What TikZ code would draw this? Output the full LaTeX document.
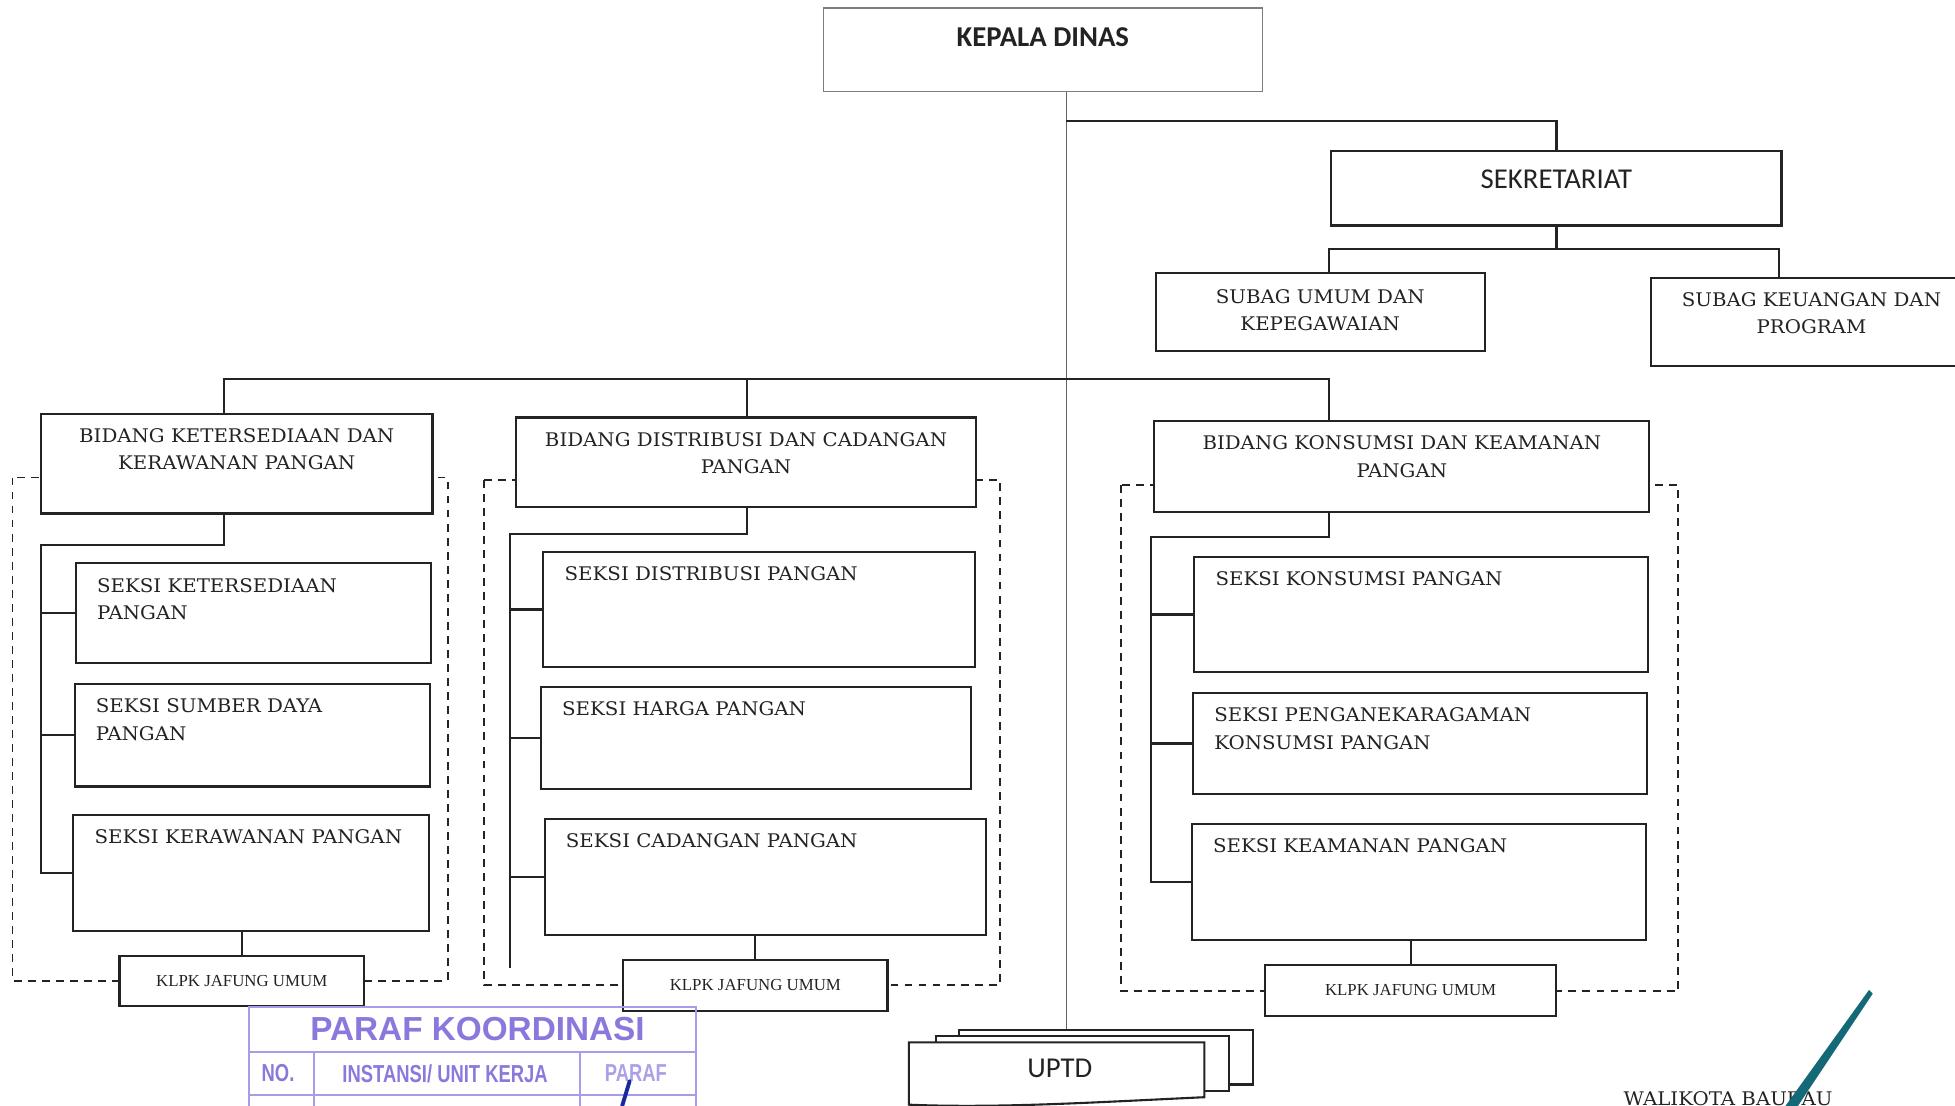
\documentclass[tikz,border=0pt]{standalone}
\usepackage{fontspec}
\usepackage{tikz}
\usetikzlibrary{positioning, calc}
\newfontfamily\boxfont{DejaVu Serif}[FakeStretch=1.055]
\newfontfamily\headfont{Carlito}
\newfontfamily\klpkfont{Liberation Serif}
\newfontfamily\stampfont{Liberation Sans}
\newfontfamily\stampnarrow{Liberation Sans}[FakeStretch=0.75]
\definecolor{myink}{RGB}{35,35,35}
\definecolor{mygrey}{RGB}{125,125,125}
\definecolor{mystamp}{RGB}{140,120,220}
\definecolor{mystampline}{RGB}{170,155,232}
\definecolor{mypen}{RGB}{25,40,160}
\definecolor{myteal}{RGB}{20,105,118}
\tikzset{
  box/.style={rectangle, draw=myink, fill=white, line width=1.2pt,
    inner sep=0pt, anchor=north west},
  boxsize/.style 2 args={minimum width=#1*0.025cm, minimum height=#2*0.025cm},
  headbox/.style={box, draw=mygrey, line width=0.6pt},
  headtxt/.style={inner sep=0pt, color=myink,
    font=\headfont\fontsize{16.4}{19}\selectfont},
  boxtxt/.style={inner sep=0pt, color=myink, align=center,
    font=\boxfont\fontsize{10.7}{15.65}\selectfont},
  seksitxt/.style={boxtxt, align=left},
  klpk/.style={box, text=myink, font=\klpkfont\fontsize{9.6}{11}\selectfont},
  line/.style={line width=1.2pt, color=myink},
  dashline/.style={line width=1.1pt, color=myink, dash pattern=on 4.5pt off 3.5pt},
  spineline/.style={line width=0.6pt, color=mygrey!80!black},
  stampline/.style={line width=1.2pt, color=mystampline},
  stamptxt/.style={inner sep=0pt, color=mystamp,
    font=\stampnarrow\bfseries\fontsize{14}{16}\selectfont}
}

\begin{document}
\begin{tikzpicture}[x=0.025cm, y=-0.025cm, node distance=0.31cm and 0.44cm]
  \useasboundingbox (0,0) rectangle (1568,887);
  \clip (0,0) rectangle (1568,887);

  % Dashed groups behind the bidang boxes
  \draw[dashline] (10,383) rectangle (359,787);
  \draw[dashline] (388,385) rectangle (802,790);
  \draw[dashline] (899,389) rectangle (1346,795);

  % Kepala dinas and sekretariat
  \node[headbox, boxsize={352}{67}] (kadis) at (660,6) {};
  \node[headtxt, font=\headfont\bfseries\fontsize{16.4}{19}\selectfont, below=0.39cm of kadis.north] (kadis-t) {KEPALA DINAS};
  \node[box, boxsize={361}{60}] (sekr) at (1067,120) {};
  \node[headtxt, below=0.39cm of sekr.north] (sekr-t) {SEKRETARIAT};
  \node[box, boxsize={264}{63}] (subu) at (926,218) {};
  \node[boxtxt, below=0.34cm of subu.north] (subu-t) {SUBAG UMUM DAN\\KEPEGAWAIAN};
  \node[box, boxsize={258}{71}] (subk) at (1323,222) {};
  \node[boxtxt, below=of subk.north] (subk-t) {SUBAG KEUANGAN DAN\\PROGRAM};

  % Bidang
  \node[box, boxsize={314}{80}] (bk) at (32,331) {};
  \node[boxtxt, below=of bk.north] (bk-t) {BIDANG KETERSEDIAAN DAN\\KERAWANAN PANGAN};
  \node[box, boxsize={369}{72}] (bd) at (413,334) {};
  \node[boxtxt, below=of bd.north] (bd-t) {BIDANG DISTRIBUSI DAN CADANGAN\\PANGAN};
  \node[box, boxsize={397}{73}] (bkk) at (925,337) {};
  \node[boxtxt, below=of bkk.north] (bkk-t) {BIDANG KONSUMSI DAN KEAMANAN\\PANGAN};

  % Seksi ketersediaan dan kerawanan
  \node[box, boxsize={285}{80}] (k1) at (60,451) {};
  \node[seksitxt, below right=of k1.north west] (k1-t) {SEKSI KETERSEDIAAN\\PANGAN};
  \node[box, boxsize={285}{82}] (k2) at (59,548) {};
  \node[seksitxt, below right=of k2.north west] (k2-t) {SEKSI SUMBER DAYA\\PANGAN};
  \node[box, boxsize={285}{93}] (k3) at (58,653) {};
  \node[seksitxt, below right=of k3.north west] (k3-t) {SEKSI KERAWANAN PANGAN};

  % Seksi distribusi dan cadangan
  \node[box, boxsize={346}{92}] (d1) at (435,442) {};
  \node[seksitxt, below right=of d1.north west] (d1-t) {SEKSI DISTRIBUSI PANGAN};
  \node[box, boxsize={345}{82}] (d2) at (433,550) {};
  \node[seksitxt, below right=of d2.north west] (d2-t) {SEKSI HARGA PANGAN};
  \node[box, boxsize={354}{93}] (d3) at (436,656) {};
  \node[seksitxt, below right=of d3.north west] (d3-t) {SEKSI CADANGAN PANGAN};

  % Seksi konsumsi dan keamanan
  \node[box, boxsize={364}{92}] (c1) at (957,446) {};
  \node[seksitxt, below right=of c1.north west] (c1-t) {SEKSI KONSUMSI PANGAN};
  \node[box, boxsize={364}{81}] (c2) at (956,555) {};
  \node[seksitxt, below right=of c2.north west] (c2-t) {SEKSI PENGANEKARAGAMAN\\KONSUMSI PANGAN};
  \node[box, boxsize={364}{93}] (c3) at (955,660) {};
  \node[seksitxt, below right=of c3.north west] (c3-t) {SEKSI KEAMANAN PANGAN};

  % Kelompok jabatan fungsional
  \node[klpk, boxsize={196}{40}] (klpk1) at (95,766) {KLPK JAFUNG UMUM};
  \node[klpk, boxsize={212}{41}] (klpk2) at (499,769) {KLPK JAFUNG UMUM};
  \node[klpk, boxsize={233}{41}] (klpk3) at (1014,773) {KLPK JAFUNG UMUM};

  % UPTD
  \node[box, boxsize={236}{44}] (uptdc) at (768,825) {};
  \node[box, boxsize={235}{44}] (uptdb) at (750,830) {};
  \draw[line, fill=white] (729,836) -- (966,836) -- (966,880)
    .. controls (880,884) and (800,889) .. (729,886) -- cycle;
  \node[headtxt] (uptd) at (850,857) {UPTD};

  % Connectors
  \coordinate (spine) at (855,0);
  \coordinate (dsubu) at (1066,200);
  \coordinate (dsubk) at (1427,200);
  \coordinate (dbk) at (180,304);
  \coordinate (dbd) at (599,304);
  \coordinate (dbkk) at (1066,304);
  \coordinate (tk) at (33,437);
  \coordinate (td) at (409,428);
  \coordinate (tc) at (923,431);
  \draw[spineline] (kadis.south -| spine) -- (uptdc.north -| spine);
  \draw[line] (spine |- 0,97) -| (sekr.north);
  \draw[line] (sekr.south) -- (sekr.south |- dsubu);
  \draw[line] (subu.north -| dsubu) -- (dsubu) -- (dsubk) -- (subk.north -| dsubk);
  \draw[line] (bk.north -| dbk) -- (dbk) -- (dbkk) -- (bkk.north -| dbkk);
  \draw[line] (dbd) -- (bd.north -| dbd);

  \draw[line] (bk.south -| dbk) |- (tk) -- (tk |- k3.west) -- (k3.west);
  \draw[line] (tk |- k1.west) -- (k1.west);
  \draw[line] (tk |- k2.west) -- (k2.west);
  \draw[line] (klpk1.north |- k3.south) -- (klpk1.north);

  \draw[line] (bd.south -| dbd) |- (td) -- ++(0,348);
  \draw[line] (td |- d1.west) -- (d1.west);
  \draw[line] (td |- d2.west) -- (d2.west);
  \draw[line] (td |- d3.west) -- (d3.west);
  \draw[line] (klpk2.north |- d3.south) -- (klpk2.north);

  \draw[line] (bkk.south -| dbkk) |- (tc) -- (tc |- c3.west) -- (c3.west);
  \draw[line] (tc |- c1.west) -- (c1.west);
  \draw[line] (tc |- c2.west) -- (c2.west);
  \draw[line] (klpk3.north |- c3.south) -- (klpk3.north);

  % Stamp
  \draw[stampline] (200,808) rectangle (558,900);
  \draw[stampline] (200,844) -- (558,844) (200,878) -- (558,878)
    (252,844) -- (252,900) (465,844) -- (465,900);
  \node[stamptxt, font=\stampfont\bfseries\fontsize{19}{22}\selectfont] (paraf) at (383,825) {PARAF KOORDINASI};
  \node[stamptxt] (no) at (223,861) {NO.};
  \node[stamptxt] (instansi) at (357,861) {INSTANSI/ UNIT KERJA};
  \node[stamptxt, color=mystamp!70] (paraf-k) at (510,861) {PARAF};
  \draw[mypen, line width=2.2pt, line cap=round] (505,867) -- (499,887);

  % Signature
  \node[boxtxt] (walikota) at (1386,881) {WALIKOTA BAUBAU};
  \fill[myteal] (1499,794) -- (1502,797) -- (1442,887) -- (1432,887) -- cycle;
\end{tikzpicture}
\end{document}
